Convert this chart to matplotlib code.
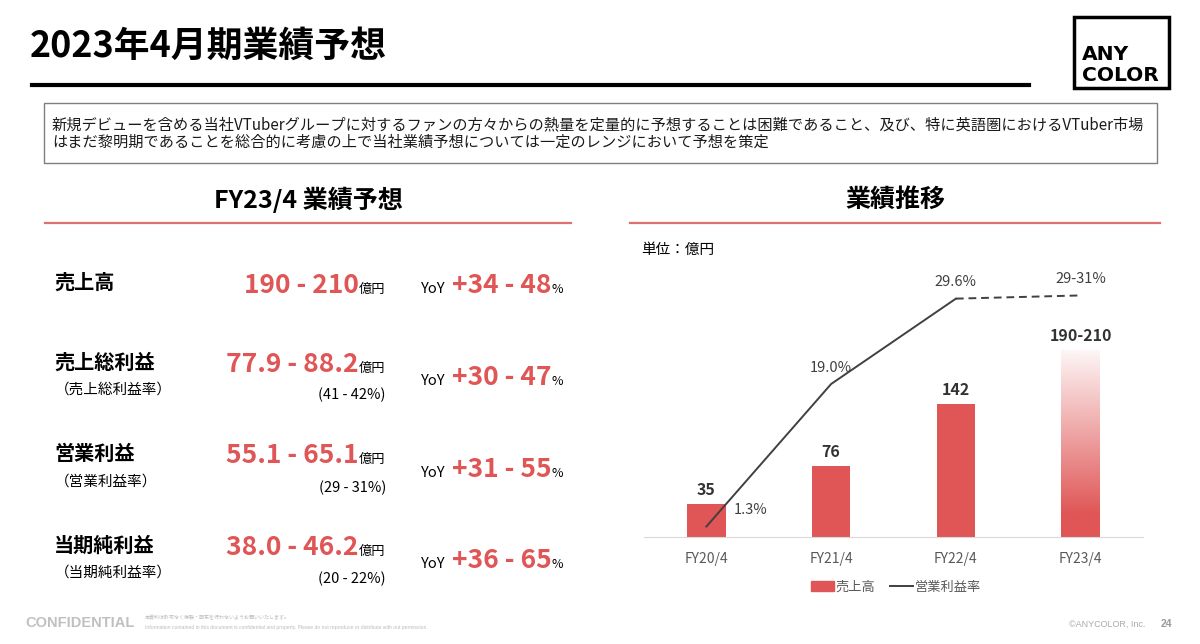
import numpy as np
import matplotlib.pyplot as plt
from matplotlib.colors import to_rgb
from matplotlib.patches import Rectangle, Patch
from matplotlib.lines import Line2D

plt.rcParams['font.family'] = ['Noto Sans CJK JP', 'DejaVu Sans']

RED = '#E05555'
DARK = '#404040'

# chart data (億円 / %)
years = ['FY20/4', 'FY21/4', 'FY22/4', 'FY23/4']
sales_actual = [35, 76, 142]
sales_forecast = [190, 210]
margin_actual = [1.3, 19.0, 29.6]
margin_forecast = [29, 31]

# forecast table
items = ['売上高', '売上総利益', '営業利益', '当期純利益']
item_notes = ['', '（売上総利益率）', '（営業利益率）', '（当期純利益率）']
forecast_ranges = ['190 - 210', '77.9 - 88.2', '55.1 - 65.1', '38.0 - 46.2']
margin_ranges = ['', '(41 - 42%)', '(29 - 31%)', '(20 - 22%)']
yoy_ranges = ['+34 - 48', '+30 - 47', '+31 - 55', '+36 - 65']

intro = ['新規デビューを含める当社VTuberグループに対するファンの方々からの熱量を定量的に予想することは困難であること、及び、特に英語圏におけるVTuber市場',
         'はまだ黎明期であることを総合的に考慮の上で当社業績予想については一定のレンジにおいて予想を策定']

fig = plt.figure(figsize=(12, 6.44), dpi=100)

# page layer in pixel coordinates
bg = fig.add_axes([0, 0, 1, 1])
bg.set_xlim(0, 1200)
bg.set_ylim(644, 0)
bg.axis('off')

bg.text(30, 46, '2023年4月期業績予想', fontsize=25.8, fontweight='bold', va='center', ha='left')
bg.plot([32, 1029], [85, 85], color='black', lw=3)

bg.add_patch(Rectangle((1074, 17), 95, 71, fill=False, ec='black', lw=2.5))
bg.text(1082, 60, 'ANY', fontsize=14.6, fontweight='bold', family='DejaVu Sans', ha='left', va='baseline')
bg.text(1082, 81, 'COLOR', fontsize=14.6, fontweight='bold', family='DejaVu Sans', ha='left', va='baseline')

bg.add_patch(Rectangle((44, 103), 1113, 60, fill=False, ec='#7F7F7F', lw=1))
bg.text(52, 125, intro[0], fontsize=10.95, va='center', ha='left', color='#1a1a1a')
bg.text(52, 142, intro[1], fontsize=10.95, va='center', ha='left', color='#1a1a1a')

# section headers
bg.text(308, 200, 'FY23/4 業績予想', fontsize=18, fontweight='bold', ha='center', va='center')
bg.plot([45, 571], [223, 223], color='#E06F6F', lw=1.6)
bg.text(895, 200, '業績推移', fontsize=18, fontweight='bold', ha='center', va='center')
bg.plot([630, 1160], [223, 223], color='#E06F6F', lw=1.6)

# table rows
label_y = [282, 362, 453, 545]
value_base = [293, 372, 463, 555]
yoy_base = [293, 385, 477, 568]
note_y = [0, 390, 482, 573]
ratio_y = [0, 395, 488, 579]
for i in range(len(items)):
    bg.text(54, label_y[i], items[i], fontsize=14.5, fontweight='bold', va='center')
    bg.text(359, value_base[i], forecast_ranges[i], fontsize=19, fontweight='bold',
            color=RED, ha='right', va='baseline')
    bg.text(359, value_base[i], '億円', fontsize=9.5, ha='left', va='baseline')
    bg.text(421, yoy_base[i], 'YoY', fontsize=10.5, ha='left', va='baseline')
    bg.text(452, yoy_base[i], yoy_ranges[i], fontsize=19, fontweight='bold',
            color=RED, ha='left', va='baseline')
    bg.text(552, yoy_base[i], '%', fontsize=9, ha='left', va='baseline')
    if item_notes[i]:
        bg.text(55, note_y[i], item_notes[i], fontsize=10.5, va='center')
        bg.text(386, ratio_y[i], margin_ranges[i], fontsize=10.5, ha='right', va='center')

# footer
bg.text(25, 623, 'CONFIDENTIAL', fontsize=10.5, fontweight='bold', family='Liberation Sans',
        color='#C0C0C0', va='center')
bg.text(145, 618, '本資料は許可なく複製・配布を行わないようお願いいたします。', fontsize=3.6,
        color='#BBBBBB', va='center')
bg.text(145, 627, 'Information contained in this document is confidential and property. '
        'Please do not reproduce or distribute with out permission.', fontsize=3.6,
        family='Liberation Sans', color='#BBBBBB', va='center')
bg.text(1145, 624, '©ANYCOLOR, Inc.', fontsize=6.5, family='Liberation Sans',
        color='#AAAAAA', ha='right', va='center')
bg.text(1161, 624, '24', fontsize=7.5, fontweight='bold', family='Liberation Sans',
        color='#999999', ha='left', va='center')

# chart
ax = fig.add_axes([644 / 1200, 107 / 644, 499 / 1200, 277 / 644])
x = np.arange(len(years))
w = 0.31
ax.bar(x[:3], sales_actual, w, color=RED, zorder=2)
sales_mid = np.mean(sales_forecast)
fc_bar = ax.bar(x[3], sales_mid, w, color='none', lw=0, zorder=2)[0]
t = np.linspace(0, 1, 256)
alpha = np.clip(1 - (t - 0.12) / 0.88 * 0.95, 0.05, 1)
grad = np.zeros((256, 1, 4))
grad[..., :3] = to_rgb(RED)
grad[:, 0, 3] = alpha
img = ax.imshow(grad, extent=[x[3] - w / 2, x[3] + w / 2, 0, sales_mid], origin='lower',
                aspect='auto', zorder=2)
img.set_clip_path(fc_bar)

for xi, v in zip(x[:3], sales_actual):
    ax.annotate(f'{v}', (xi, v), xytext=(0, 10), textcoords='offset points', ha='center',
                va='center', fontsize=11.5, fontweight='bold', color='#333333')
ax.annotate(f'{sales_forecast[0]}-{sales_forecast[1]}', (x[3], sales_mid), xytext=(0, 10),
            textcoords='offset points', ha='center', va='center', fontsize=11.5,
            fontweight='bold', color='#333333')

ax.set_xlim(-0.5, 3.5)
ax.set_ylim(0, 295.6)
ax.set_xticks(x, years)
ax.tick_params(axis='x', length=0, pad=11, labelsize=10, labelcolor='#595959')
ax.set_yticks([])
for s in ['left', 'right', 'top']:
    ax.spines[s].set_visible(False)
ax.spines['bottom'].set_color('#D9D9D9')

ax2 = ax.twinx()
margin_mid = np.mean(margin_forecast)
ax2.plot(x[:3], margin_actual, color=DARK, lw=1.4)
ax2.plot([x[2], x[3]], [margin_actual[-1], margin_mid], color=DARK, lw=1.4, ls=(0, (4, 2.5)))
ax2.set_ylim(0, 34.4)
ax2.set_yticks([])
for s in ['left', 'right', 'top', 'bottom']:
    ax2.spines[s].set_visible(False)

offsets = [(32, 12), (0, 11.5), (0, 12)]
for xi, m, off in zip(x[:3], margin_actual, offsets):
    ax2.annotate(f'{m:.1f}%', (xi, m), xytext=off, textcoords='offset points', ha='center',
                 va='center', fontsize=10.5, color='#404040')
ax2.annotate(f'{margin_forecast[0]}-{margin_forecast[1]}%', (x[3], margin_mid), xytext=(0, 12),
             textcoords='offset points', ha='center', va='center', fontsize=10.5, color='#404040')

bg.text(641, 250, '単位：億円', fontsize=10.5, va='center')

fig.legend(handles=[Patch(color=RED), Line2D([], [], color=DARK, lw=1.4)],
           labels=['売上高', '営業利益率'], loc='center', bbox_to_anchor=(896 / 1200, 1 - 587 / 644),
           ncol=2, frameon=False, fontsize=9.5, handlelength=1.75, handletextpad=0.1,
           columnspacing=1.1, labelcolor='#595959')

fig.savefig('out.png', dpi=100)
